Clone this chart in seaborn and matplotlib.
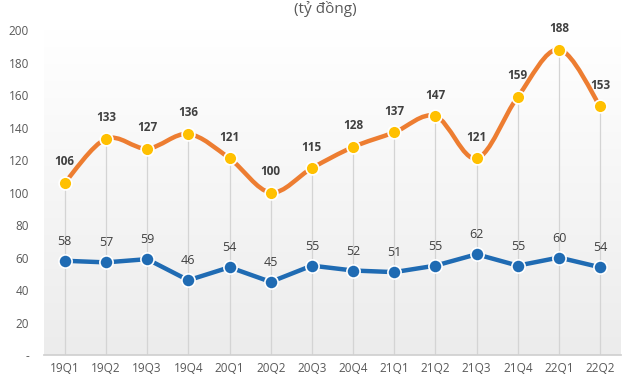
import numpy as np
import pandas as pd
import matplotlib; matplotlib.use("Agg"); import matplotlib.pyplot as plt
from matplotlib.path import Path
from matplotlib.patches import PathPatch
import seaborn as sns

quarters = ["19Q1", "19Q2", "19Q3", "19Q4", "20Q1", "20Q2", "20Q3", "20Q4",
            "21Q1", "21Q2", "21Q3", "21Q4", "22Q1", "22Q2"]
orange_vals = [106, 133, 127, 136, 121, 100, 115, 128, 137, 147, 121, 159, 188, 153]
blue_vals = [58, 57, 59, 46, 54, 45, 55, 52, 51, 55, 62, 55, 60, 54]
yticks = [0, 20, 40, 60, 80, 100, 120, 140, 160, 180, 200]
title = "(tỷ đồng)"

sns.set_theme(style="white")
plt.rcParams["font.family"] = ["Open Sans", "DejaVu Sans"]

df = pd.DataFrame({"q": quarters, "x": range(len(quarters)),
                   "orange": orange_vals, "blue": blue_vals})

fig = plt.figure(figsize=(6.4, 3.75), dpi=100)
ax = fig.add_axes([0.069, 0.0533, 0.901, 0.8667])
ax.set_xlim(-0.5, len(quarters) - 0.5)
ax.set_ylim(0, 200)

# plot-area gradient (white at top -> light grey at bottom)
grad = np.linspace(1, 0, 256).reshape(-1, 1)
ax.imshow(grad, extent=[-0.5, len(quarters) - 0.5, 0, 200], aspect="auto",
          cmap=matplotlib.colors.LinearSegmentedColormap.from_list("g", ["#ececec", "#ffffff"]),
          zorder=0, origin="upper")

# drop lines
ax.vlines(df["x"], 0, df["orange"], color="#d4d4d4", lw=0.9, zorder=1)

# smoothed orange curve (Excel-style bezier)
xs, ys = df["x"].to_numpy(float), df["orange"].to_numpy(float)
verts, codes = [(xs[0], ys[0])], [Path.MOVETO]
n = len(xs)
for i in range(n - 1):
    p0 = (xs[max(i - 1, 0)], ys[max(i - 1, 0)])
    p1 = (xs[i], ys[i]); p2 = (xs[i + 1], ys[i + 1])
    p3 = (xs[min(i + 2, n - 1)], ys[min(i + 2, n - 1)])
    c1 = (p1[0] + (p2[0] - p0[0]) / 6, p1[1] + (p2[1] - p0[1]) / 6)
    c2 = (p2[0] - (p3[0] - p1[0]) / 6, p2[1] - (p3[1] - p1[1]) / 6)
    verts += [c1, c2, p2]; codes += [Path.CURVE4] * 3
ax.add_patch(PathPatch(Path(verts, codes), fill=False, edgecolor="#ED7D31",
                       lw=3.2, capstyle="round", zorder=3))
sns.scatterplot(data=df, x="x", y="orange", ax=ax, s=85, color="#FFC000",
                edgecolor="white", linewidth=1.2, zorder=4)

sns.lineplot(data=df, x="x", y="blue", ax=ax, color="#1F6BB3", lw=3.2, zorder=3,
             marker="o", markersize=9.5, markerfacecolor="#1F6BB3",
             markeredgecolor="white", markeredgewidth=1.2)

for x, o, b in zip(df["x"], df["orange"], df["blue"]):
    ax.text(x, o + 9, str(o), ha="center", va="bottom", fontsize=8.5,
            fontweight="bold", color="#404040", zorder=5)
    ax.text(x, b + 8, str(b), ha="center", va="bottom", fontsize=9,
            color="#404040", zorder=5)

ax.set_xticks(df["x"]); ax.set_xticklabels(quarters)
ax.set_yticks(yticks)
ax.set_yticklabels(["-" if t == 0 else str(t) for t in yticks])
ax.tick_params(axis="both", length=0, labelsize=8.5, labelcolor="#595959")
ax.tick_params(axis="y", pad=11)
ax.tick_params(axis="x", pad=5)
ax.set_xlabel(""); ax.set_ylabel("")
for s in ["top", "right", "left"]:
    ax.spines[s].set_visible(False)
ax.spines["bottom"].set_color("#d0d0d0")
ax.grid(False)

fig.text(0.508, 0.998, title, ha="center", va="top", fontsize=11, color="#595959")

fig.savefig("out.png", dpi=100)
